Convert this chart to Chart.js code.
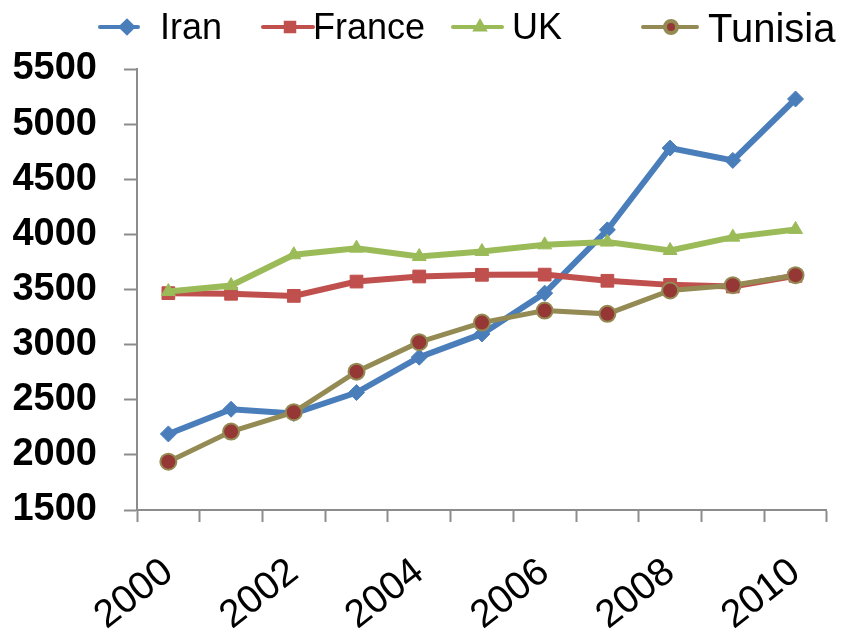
<!DOCTYPE html>
<html>
<head>
<meta charset="utf-8">
<script src="https://cdn.jsdelivr.net/npm/chart.js@4/dist/chart.umd.min.js"></script>
<style>
  html, body { margin: 0; padding: 0; background: #ffffff; }
  #wrap { width: 846px; height: 642px; }
</style>
</head>
<body>
<div id="wrap"><canvas id="chart" width="846" height="642"></canvas></div>
<script>
// Yearly values per country
const years   = ['2000', '2001', '2002', '2003', '2004', '2005', '2006', '2007', '2008', '2009', '2010'];
const iran    = [2190, 2414, 2375, 2565, 2886, 3097, 3467, 4041, 4783, 4671, 5228];
const france  = [3467, 3461, 3442, 3572, 3618, 3633, 3635, 3579, 3542, 3527, 3624];
const uk      = [3482, 3536, 3815, 3875, 3799, 3845, 3905, 3930, 3854, 3975, 4045];
const tunisia = [1938, 2211, 2387, 2755, 3022, 3200, 3309, 3279, 3491, 3539, 3630];

// Value axis range
const yMin = 1500;
const yMax = 5500;
const yStep = 500;

const FONT = '"Liberation Sans", Arial, "DejaVu Sans", sans-serif';
const AXIS_GREY = '#8c8c8c';

// Legend drawn across the top, each entry with its own line sample and font size
const topLegend = {
  id: 'topLegend',
  afterDraw(chart, args, opts) {
    const ctx = chart.ctx;
    opts.items.forEach((it, i) => {
      const ds = chart.data.datasets[i];
      ctx.save();
      ctx.strokeStyle = ds.borderColor;
      ctx.lineWidth = 4;
      ctx.lineCap = 'round';
      ctx.beginPath();
      ctx.moveTo(it.x0, opts.y);
      ctx.lineTo(it.x1, opts.y);
      ctx.stroke();
      ctx.fillStyle = ds.pointBackgroundColor;
      ctx.strokeStyle = ds.pointBorderColor;
      Chart.helpers.drawPoint(ctx, {
        pointStyle: ds.pointStyle,
        radius: it.r,
        borderWidth: ds.pointBorderWidth,
        rotation: 0
      }, it.mx, opts.y);
      ctx.fillStyle = '#000000';
      ctx.font = it.size + 'px ' + FONT;
      ctx.textBaseline = 'alphabetic';
      ctx.textAlign = 'left';
      ctx.fillText(ds.label, it.tx, it.base);
      ctx.restore();
    });
  }
};

new Chart(document.getElementById('chart'), {
  type: 'line',
  data: {
    labels: years,
    datasets: [
      {
        label: 'Iran', data: iran, order: 4,
        borderColor: '#4a7ebb', backgroundColor: '#4a7ebb',
        pointStyle: 'rectRot', pointRadius: 8,
        pointBackgroundColor: '#4a7ebb', pointBorderColor: '#4a7ebb', pointBorderWidth: 1,
        borderWidth: 6
      },
      {
        label: 'France', data: france, order: 3,
        borderColor: '#c0504d', backgroundColor: '#c0504d',
        pointStyle: 'rect', pointRadius: 9,
        pointBackgroundColor: '#c0504d', pointBorderColor: '#c0504d', pointBorderWidth: 1,
        borderWidth: 6
      },
      {
        label: 'UK', data: uk, order: 2,
        borderColor: '#9bbb59', backgroundColor: '#9bbb59',
        pointStyle: 'triangle', pointRadius: 8,
        pointBackgroundColor: '#9bbb59', pointBorderColor: '#9bbb59', pointBorderWidth: 1,
        borderWidth: 6
      },
      {
        label: 'Tunisia', data: tunisia, order: 1,
        borderColor: '#948a54', backgroundColor: '#953735',
        pointStyle: 'circle', pointRadius: 8,
        pointBackgroundColor: '#953735', pointBorderColor: '#948a54', pointBorderWidth: 2,
        borderWidth: 5
      }
    ]
  },
  options: {
    responsive: false,
    animation: false,
    devicePixelRatio: 1,
    layout: { padding: { top: 69, right: 9, left: 0, bottom: 0 } },
    elements: { line: { tension: 0 } },
    plugins: {
      legend: { display: false },
      tooltip: { enabled: false },
      topLegend: {
        y: 27,
        items: [
          { x0: 100, x1: 138, mx: 127, r: 6, tx: 160, size: 36, base: 39 },
          { x0: 263, x1: 313, mx: 290, r: 6, tx: 313, size: 36, base: 39 },
          { x0: 453, x1: 502, mx: 480, r: 5, tx: 512, size: 36, base: 39 },
          { x0: 643, x1: 697, mx: 671, r: 6, tx: 708, size: 40, base: 42 }
        ]
      }
    },
    scales: {
      x: {
        type: 'category',
        offset: true,
        afterFit(scale) { scale.height = 132; },
        border: { display: true, color: AXIS_GREY, width: 2 },
        grid: {
          display: true, offset: true, drawOnChartArea: false, drawTicks: true,
          tickLength: 12, tickColor: AXIS_GREY, tickWidth: 2
        },
        ticks: {
          autoSkip: false,
          minRotation: 38, maxRotation: 38,
          padding: 38,
          color: '#000000',
          font: { family: FONT, size: 39, weight: 'normal', lineHeight: 0.5 },
          callback(value, index) { return index % 2 === 0 ? years[index] : ''; }
        }
      },
      y: {
        min: yMin, max: yMax,
        afterFit(scale) { scale.width = 137; },
        border: { display: true, color: AXIS_GREY, width: 2 },
        grid: {
          display: true, drawOnChartArea: false, drawTicks: true,
          tickLength: 13, tickColor: AXIS_GREY, tickWidth: 2
        },
        ticks: {
          stepSize: yStep,
          padding: 27,
          color: '#000000',
          font: { family: FONT, size: 38, weight: 'bold' },
          callback(value) { return String(value); }
        }
      }
    }
  },
  plugins: [topLegend]
});
</script>
</body>
</html>
